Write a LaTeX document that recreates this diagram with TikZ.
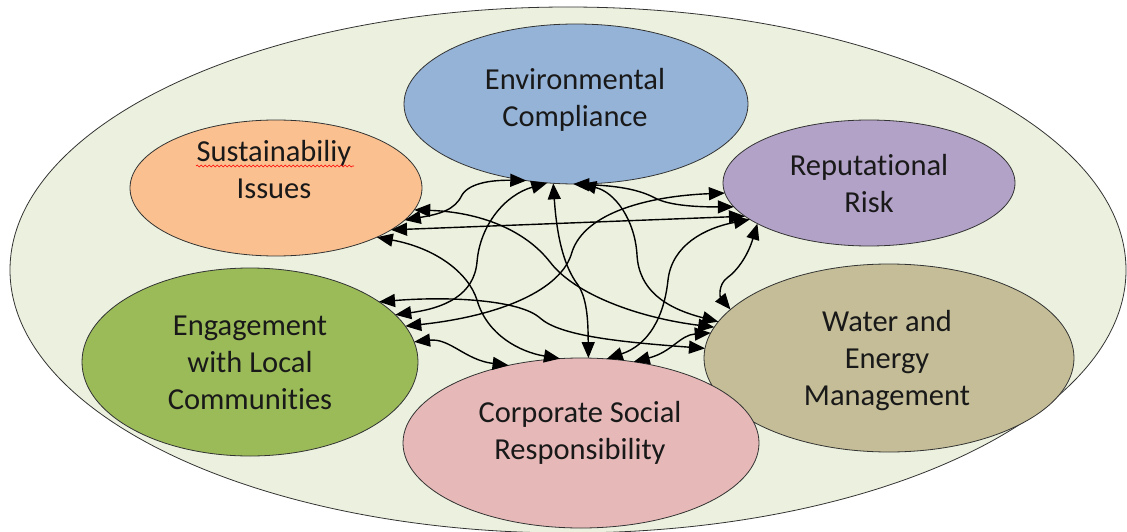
\documentclass[tikz,border=0pt]{standalone}
\usepackage{fontspec}
\setmainfont{Carlito}[Ligatures=NoCommon]
\usetikzlibrary{shapes.geometric,arrows.meta,decorations.pathmorphing}

\definecolor{frameback}{HTML}{EBF1DE}
\definecolor{ecblue}{HTML}{95B3D7}
\definecolor{susorange}{HTML}{FAC090}
\definecolor{reppurple}{HTML}{B3A2C7}
\definecolor{enggreen}{HTML}{9BBB59}
\definecolor{watertan}{HTML}{C4BD97}
\definecolor{csrpink}{HTML}{E6B9B8}

\def\tiplen{16pt}
\def\tipwid{13pt}

\tikzset{
  bubble/.style={ellipse,draw=black!80,line width=0.8pt,inner sep=0pt,outer sep=0pt},
  caption/.style={align=center,font=\fontsize{30.5}{37}\selectfont,text=black!90},
  link/.style={line width=1.4pt,{Triangle[length=\tiplen,width=\tipwid]}-{Triangle[length=\tiplen,width=\tipwid]}}
}

\begin{document}
\begin{tikzpicture}[x=1pt,y=-1pt]
    \useasboundingbox (0,0) rectangle (1127,532);
    \node[bubble,fill=frameback,minimum width=1116pt,minimum height=526pt] (frame) at (568,270) {};
    \foreach \n/\x/\y/\w/\h/\c in {ec/576/104/344/160/ecblue,sus/276/188/292/136/susorange,rep/869/183/292/126/reppurple,eng/250/362/336/188/enggreen,wat/889/358/370/188/watertan,csr/581/443/356/170/csrpink}
        \node[bubble,fill=\c,minimum width=\w pt,minimum height=\h pt] (\n) at (\x,\y) {};

    \node[caption] (ectext) at (575,100) {Environmental\\Compliance};
    \node[caption] (sustext) at (274,170) {Sustainabiliy\\Issues};
    \node[caption] (reptext) at (869,184) {Reputational\\Risk};
    \node[caption] (engtext) at (250,363) {Engagement\\with Local\\Communities};
    \node[caption] (wattext) at (887,361) {Water and\\Energy\\Management};
    \node[caption] (csrtext) at (580,433) {Corporate Social\\Responsibility};
    \draw[red,line width=0.6pt,decorate,decoration={snake,amplitude=0.9pt,segment length=4pt}] (196,166) -- (354,166);

    \draw[link] (sus.-14) .. controls (440,214) and (455,210) .. (462,195) .. controls (470,182) and (495,180) .. (ec.-123);
    \draw[link] (sus.-9) .. controls (480,212) and (525,230) .. (550,262) .. controls (575,295) and (640,318) .. (wat.170);
    \draw[link] (sus.-20) -- (rep.-165);
    \draw[link] (sus.-26) .. controls (435,248) and (468,272) .. (477,300) .. controls (487,335) and (520,352) .. (csr.104);
    \draw[link] (ec.-110) .. controls (505,195) and (480,225) .. (477,262) .. controls (474,295) and (445,308) .. (eng.18);
    \draw[link] (ec.-106) .. controls (557,240) and (565,268) .. (578,285) .. controls (588,300) and (588,325) .. (csr.85.5);
    \draw[link] (ec.-92) .. controls (620,186) and (640,190) .. (655,198) .. controls (670,206) and (700,207) .. (rep.-170);
    \draw[link] (ec.-87) .. controls (615,192) and (635,220) .. (637,255) .. controls (639,290) and (665,308) .. (wat.168);
    \draw[link] (rep.-176) .. controls (650,196) and (585,212) .. (572,252) .. controls (562,290) and (500,316) .. (eng.13);
    \draw[link] (rep.-163) .. controls (705,228) and (672,245) .. (668,280) .. controls (664,318) and (648,345) .. (csr.73.5);
    \draw[link] (rep.-160) .. controls (748,255) and (738,270) .. (727,278) .. controls (718,285) and (720,297) .. (wat.163);
    \draw[link] (eng.25) .. controls (450,296) and (520,300) .. (540,318) .. controls (560,336) and (620,342) .. (wat.177);
    \draw[link] (eng.7.6) .. controls (450,338) and (465,360) .. (csr.133);
    \draw[link] (wat.172) .. controls (680,335) and (672,352) .. (csr.57.5);
\end{tikzpicture}
\end{document}
